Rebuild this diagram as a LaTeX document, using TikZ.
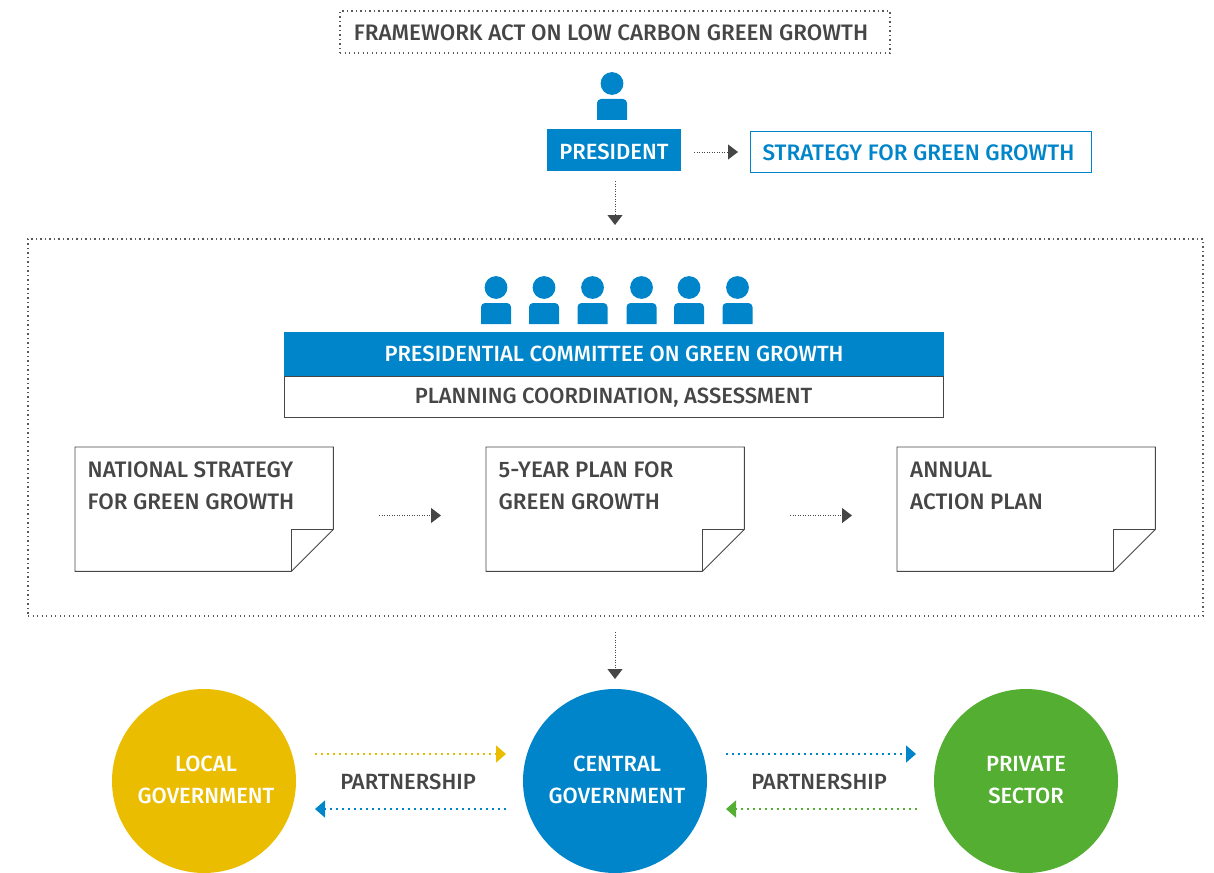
\documentclass[tikz,border=0pt]{standalone}
\usepackage{fontspec}
\setmainfont{Fira Sans Medium}
\usetikzlibrary{arrows.meta,positioning}
\definecolor{bluec}{HTML}{0085CA}
\definecolor{yellowc}{HTML}{EBBD00}
\definecolor{greenc}{HTML}{53AE32}
\definecolor{greyc}{HTML}{464646}
\tikzset{
 lab/.style={font=\fontsize{22.4}{32}\selectfont,text=greyc,inner sep=0pt},
 slab/.style={lab,font=\fontsize{22}{32}\selectfont},
 wlab/.style={slab,text=white,align=center},
 dotline/.style={draw=greyc,line width=1,dash pattern=on 1pt off 1.5pt,-{Triangle[length=10pt,width=15pt,color=greyc]}},
 partY/.style={draw=yellowc,line width=1.6,dash pattern=on 2pt off 4pt,-{Triangle[length=10pt,width=17pt,color=yellowc]}},
 partB/.style={partY,draw=bluec,-{Triangle[length=10pt,width=17pt,color=bluec]}},
 partG/.style={partY,draw=greenc,-{Triangle[length=10pt,width=17pt,color=greenc]}},
 circ/.style={circle,minimum size=184pt,inner sep=0pt},
 docbox/.style={draw=none,minimum width=258pt,minimum height=124pt,inner sep=0pt},
 dotbox/.style={draw=greyc!90,line width=1.1,dash pattern=on 1.1pt off 3.4pt},
 person/.style={fill=bluec,draw=none},
 doctext/.style={lab,align=left,anchor=north west},
}
\newcommand{\personicon}[3]{% x, head y, body top y (body is 21 tall)
 \fill[person] (#1,#2) circle (11.4);
 \fill[person] (#1-15,#3+21) [rounded corners=4pt] -- (#1-15,#3) -- (#1+15,#3) [sharp corners] -- (#1+15,#3+21) -- cycle;
}
\newcommand{\docshape}[2]{% name, left x
 \node[docbox,anchor=north west] (#1) at (#2,447) {};
 \draw[greyc,line width=.9] (#1.north west) -- (#1.north east) -- ([yshift=42pt]#1.south east) -- ([xshift=-42pt]#1.south east) -- (#1.south west) -- cycle;
 \draw[greyc,line width=.9] ([xshift=-42pt]#1.south east) -- ([xshift=-42pt,yshift=42pt]#1.south east) -- ([yshift=42pt]#1.south east);
}
\begin{document}
\begin{tikzpicture}[x=1pt,y=-1pt]
\useasboundingbox (0,0) rectangle (1214,872);
\clip (0,0) rectangle (1214,872);
% title
\node[dotbox,minimum width=550pt,minimum height=42pt,inner sep=0pt] (act) at (615,32) {};
\node[lab] (acttext) at (611,33) {FRAMEWORK ACT ON LOW CARBON GREEN GROWTH};
% president
\personicon{612}{83.5}{99}
\node[fill=bluec,minimum width=134pt,minimum height=42pt,inner sep=0pt,wlab,text height=19.5pt,text depth=0pt] (pres) at (614,150) {PRESIDENT};
\node[draw=bluec,line width=1,minimum width=341pt,minimum height=41pt,inner sep=0pt,lab,text=bluec,text height=16.5pt,text depth=0pt] (strategy) at (921,152) {\hspace{-5pt}STRATEGY FOR GREEN GROWTH};
\coordinate (presR) at (694,152);
\coordinate (stratL) at (738,152);
\draw[dotline] (presR) -- (stratL);
\coordinate (presB) at (615,181);
\coordinate (boxT) at (615,225);
\draw[dotline] (presB) -- (boxT);
% large box
\node[dotbox,minimum width=1175pt,minimum height=377pt,inner sep=0pt] (bigbox) at (615.5,427.5) {};
\foreach \x in {496,544,592.5,641.5,689,737.5} {\personicon{\x}{287.5}{303}}
\node[fill=bluec,minimum width=660pt,minimum height=44pt,inner sep=0pt,wlab,text height=15.5pt,text depth=0pt] (comm) at (614,354) {PRESIDENTIAL COMMITTEE ON GREEN GROWTH};
\node[draw=greyc,line width=.9,minimum width=659pt,minimum height=41pt,inner sep=0pt,slab,text height=14.5pt,text depth=0pt] (plan) at (613.5,396.5) {PLANNING COORDINATION, ASSESSMENT};
% documents
\docshape{d1}{75}
\docshape{d2}{486}
\docshape{d3}{897}
\node[doctext] (t1) at (87.5,461.5) {NATIONAL STRATEGY\\FOR GREEN GROWTH};
\node[doctext] (t2) at (498.5,461.5) {5-YEAR PLAN FOR\\GREEN GROWTH};
\node[doctext] (t3) at (910,462) {ANNUAL\\ACTION PLAN};
\coordinate (a1s) at (379,515.5); \coordinate (a1e) at (441,515.5);
\coordinate (a2s) at (790,515.5); \coordinate (a2e) at (852,515.5);
\draw[dotline] (a1s) -- (a1e);
\draw[dotline] (a2s) -- (a2e);
\coordinate (boxB) at (615,632);
\coordinate (centT) at (615,679);
\draw[dotline] (boxB) -- (centT);
% circles
\node[circ,fill=yellowc] (local) at (204,781) {};
\node[circ,fill=bluec] (central) at (615,781) {};
\node[circ,fill=greenc] (private) at (1026,781) {};
\node[wlab] (lt) at (206,780) {LOCAL\\GOVERNMENT};
\node[wlab] (ct) at (617,780) {CENTRAL\\GOVERNMENT};
\node[wlab] (pt) at (1026,780) {PRIVATE\\SECTOR};
\coordinate (y1) at (315,754); \coordinate (y2) at (506,754);
\coordinate (b1) at (506,809); \coordinate (b2) at (315,809);
\coordinate (b3) at (726,754); \coordinate (b4) at (916,754);
\coordinate (g1) at (917,809); \coordinate (g2) at (726,809);
\draw[partY] (y1) -- (y2);
\draw[partB] (b1) -- (b2);
\draw[partB] (b3) -- (b4);
\draw[partG] (g1) -- (g2);
\node[slab] (p1) at (408,782) {PARTNERSHIP};
\node[slab] (p2) at (819,782) {PARTNERSHIP};
\end{tikzpicture}
\end{document}
